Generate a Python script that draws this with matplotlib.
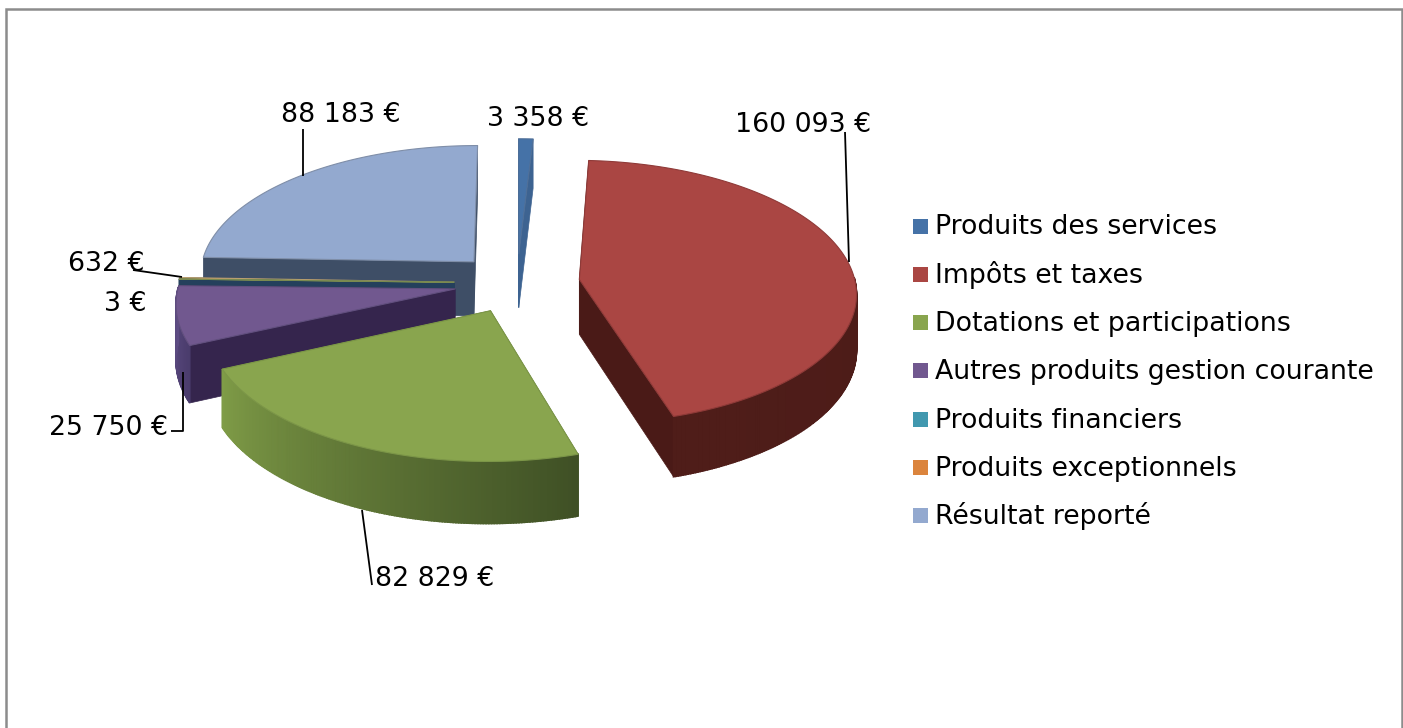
import numpy as np
import matplotlib
matplotlib.use("Agg")
import matplotlib.pyplot as plt
from matplotlib.colors import to_rgb
from matplotlib.patches import Polygon, Rectangle

# --- data ---
categories = ["Produits des services", "Impôts et taxes", "Dotations et participations",
              "Autres produits gestion courante", "Produits financiers",
              "Produits exceptionnels", "Résultat reporté"]
values = [3358, 160093, 82829, 25750, 3, 632, 88183]

# --- style ---
top_colors = ["#4572a7", "#aa4643", "#89a54e", "#71588f", "#4198af", "#db843d", "#93a9cf"]
side_colors = ["#3d6391", "#4a1a17", "#5f7a35", "#35254d", "#24405c", "#2c4460", "#3e4e66"]
edge_colors = ["#4f6f98", "#8f3a38", "#7c9648", "#62507f", "#7a8a50", "#b9a070", "#7f8ea8"]
# outer wall goes from first colour to second colour as the angle grows
arc_shades = {1: ("#4a1a17", "#4f1d19"), 2: ("#3f5025", "#7f9c47"), 3: ("#4a3c6c", "#5f4d85")}
draw_order = [6, 5, 4, 3, 0, 2, 1]

CX, CY = 517, 283
RX, RY = 276, 131
EXPLODE = 0.228
PERSP = 0.094
DEPTH = 55

FS = 19.3
TEXT = "#000000"

# label anchors (left, baseline) and leader lines, in pixels
label_pos = [(487, 126), (735, 132), (375, 586), (49, 435), (104, 311), (68, 271), (281, 122)]
leaders = [None,
           [(845, 132), (849, 262)],
           [(372, 585), (362, 510)],
           [(171, 431), (183, 431), (183, 372)],
           None,
           [(133, 270), (182, 277)],
           [(303, 129), (303, 176)]]

LEG_X, LEG_Y, LEG_STEP = 913, 226, 48.3


def project(theta, r, mid):
    """angle clockwise from top -> pixel position, with a bit of perspective"""
    X = r * np.sin(theta) + EXPLODE * np.sin(mid)
    Y = -r * np.cos(theta) - EXPLODE * np.cos(mid)
    s = 1 / (1 - PERSP * Y)
    return CX + RX * X * s, CY + RY * Y * s, s


def mix(c1, c2, t):
    a, b = np.array(to_rgb(c1)), np.array(to_rgb(c2))
    return tuple(a + (b - a) * t)


def draw_slice(ax, start, end, top, side, edge, shade):
    mid = (start + end) / 2
    n = max(int(np.degrees(end - start)) * 2, 2)
    th = np.linspace(start, end, n)
    x, y, s = project(th, 1.0, mid)
    ax0, ay0, as0 = project(np.array([start]), 0.0, mid)
    d = DEPTH * s
    d0 = DEPTH * as0[0]

    # radial walls
    for i in (0, -1):
        ax.add_patch(Polygon([(ax0[0], ay0[0]), (x[i], y[i]), (x[i], y[i] + d[i]), (ax0[0], ay0[0] + d0)],
                             closed=True, fc=side, ec=side, lw=0.5))

    # outer wall, only the part that faces the viewer
    front = np.cos(th) <= 0.02
    if front.sum() > 1:
        # plain base under the strips so that no seams show
        xf, yf, df = x[front], y[front], d[front]
        base = mix(shade[0], shade[1], 0.5) if shade is not None else side
        ax.add_patch(Polygon(list(zip(xf, yf)) + list(zip(xf[::-1], (yf + df)[::-1])),
                             closed=True, fc=base, ec="none"))
    if shade is not None:
        for i in range(n - 1):
            if not (front[i] and front[i + 1]):
                continue
            col = mix(shade[0], shade[1], (th[i] - start) / (end - start))
            ax.add_patch(Polygon([(x[i], y[i]), (x[i + 1], y[i + 1]), (x[i + 1], y[i + 1] + d[i + 1]), (x[i], y[i] + d[i])],
                                 closed=True, fc=col, ec=col, lw=1.2))

    pts = [(ax0[0], ay0[0])] + list(zip(x, y))
    ax.add_patch(Polygon(pts, closed=True, fc=top, ec=edge, lw=0.8, joinstyle="round"))


fig = plt.figure(figsize=(14.03, 7.28), dpi=100, facecolor="white")
ax = fig.add_axes([0, 0, 1, 1])
ax.set_xlim(0, 1403)
ax.set_ylim(728, 0)
ax.axis("off")

# chart frame runs off the bottom of the picture
ax.add_patch(Rectangle((6, 9), 1395.5, 760, fc="white", ec="#8c8c8c", lw=1.8))

fractions = np.array(values) / sum(values)
edges = np.concatenate([[0], np.cumsum(fractions)]) * 2 * np.pi

for i in draw_order:
    draw_slice(ax, edges[i], edges[i + 1], top_colors[i], side_colors[i], edge_colors[i], arc_shades.get(i))

for i, v in enumerate(values):
    lab = f"{v:,}".replace(",", " ") + " €"
    ax.text(label_pos[i][0], label_pos[i][1], lab, fontsize=FS, color=TEXT, ha="left", va="baseline")
    if leaders[i] is not None:
        xs, ys = zip(*leaders[i])
        ax.plot(xs, ys, color="black", lw=1.3, solid_capstyle="butt")

for i, name in enumerate(categories):
    yy = LEG_Y + i * LEG_STEP
    ax.add_patch(Rectangle((LEG_X, yy - 7.5), 15, 15, fc=top_colors[i], ec="none"))
    ax.text(LEG_X + 22, yy + 8.5, name, fontsize=FS, color=TEXT, ha="left", va="baseline")

fig.savefig("out.png", dpi=100)
